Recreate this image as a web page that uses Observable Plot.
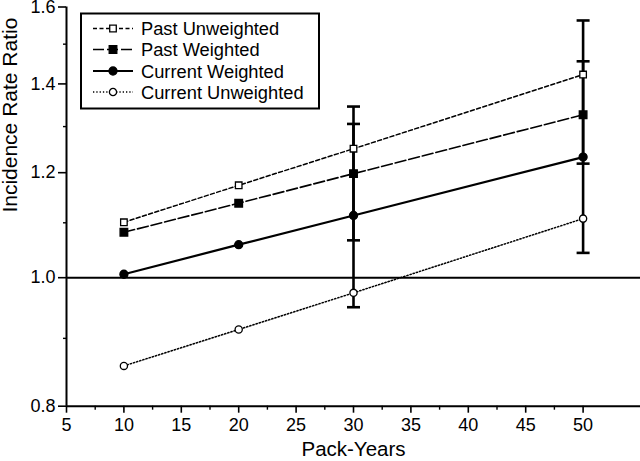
<!DOCTYPE html>
<html>
<head>
<meta charset="utf-8">
<script src="https://cdn.jsdelivr.net/npm/d3@7"></script>
<script src="https://cdn.jsdelivr.net/npm/@observablehq/plot@0.6"></script>
<style>
  html, body { margin: 0; padding: 0; background: #fff; }
  #chart { position: relative; width: 640px; height: 461px; }
  svg { font-family: "Liberation Sans", Arial, sans-serif; }
</style>
</head>
<body>
<div id="chart"></div>
<script>
// ---- data ----
const packYears = [10, 20, 30, 50];
const pastUnweighted = [1.101, 1.174, 1.251, 1.423];
const pastWeighted = [1.082, 1.138, 1.198, 1.327];
const currentWeighted = [1.006, 1.059, 1.114, 1.233];
const currentUnweighted = [0.858, 0.914, 0.974, 1.108];

const ciSeries = ["Current Weighted", "Past Weighted", "Current Weighted", "Past Weighted"];
const ciX = [30, 30, 50, 50];
const ciLow = [0.950, 1.067, 1.044, 1.219];
const ciHigh = [1.346, 1.306, 1.563, 1.456];

const xTicks = [5, 10, 15, 20, 25, 30, 35, 40, 45, 50];
const xMinorTicks = [7.5, 12.5, 17.5, 22.5, 27.5, 32.5, 37.5, 42.5, 47.5];
const yTicks = [0.8, 1.0, 1.2, 1.4, 1.6];
const yMinorTicks = [0.9, 1.1, 1.3, 1.5];

const seriesNames = ["Past Unweighted", "Past Weighted", "Current Weighted", "Current Unweighted"];
const seriesValues = [pastUnweighted, pastWeighted, currentWeighted, currentUnweighted];

// ---- styles ----
const styles = {
  "Past Unweighted":   {dash: "4,2.5", width: 1.5, symbol: "square", fill: "white", r: 3.7},
  "Past Weighted":     {dash: "11,3",  width: 1.6, symbol: "square", fill: "black", r: 4.3},
  "Current Weighted":  {dash: null,    width: 2.2, symbol: "circle", fill: "black", r: 4},
  "Current Unweighted":{dash: "1.3,2", width: 1.5, symbol: "circle", fill: "white", r: 3.6}
};

const rows = seriesNames.flatMap((s, i) => packYears.map((x, j) => ({series: s, x, y: seriesValues[i][j]})));
const ci = ciX.map((x, i) => ({series: ciSeries[i], x, lo: ciLow[i], hi: ciHigh[i]}));

const capSymbol = {
  draw(context, size) {
    const w = Math.sqrt(size / Math.PI);
    context.moveTo(-w, 0);
    context.lineTo(w, 0);
  }
};

const marks = [];
// reference line at 1.0
marks.push(Plot.ruleY([1], {stroke: "black", strokeWidth: 2}));
// series lines
for (const s of seriesNames) {
  const st = styles[s];
  marks.push(Plot.line(rows.filter(d => d.series === s), {
    x: "x", y: "y", stroke: "black", strokeWidth: st.width,
    strokeDasharray: st.dash || undefined
  }));
}
// error bars
marks.push(Plot.ruleX(ci, {x: "x", y1: "lo", y2: "hi", stroke: "black", strokeWidth: 2.6}));
marks.push(Plot.dot(ci, {x: "x", y: "lo", symbol: capSymbol, r: 6.5, fill: "none", stroke: "black", strokeWidth: 2.6}));
marks.push(Plot.dot(ci, {x: "x", y: "hi", symbol: capSymbol, r: 6.5, fill: "none", stroke: "black", strokeWidth: 2.6}));
// markers
for (const s of seriesNames) {
  const st = styles[s];
  marks.push(Plot.dot(rows.filter(d => d.series === s), {
    x: "x", y: "y", symbol: st.symbol, r: st.r, fill: st.fill, stroke: "black", strokeWidth: 1.3
  }));
}
// axes
marks.push(Plot.axisX({ticks: xTicks, tickSize: 7, tickPadding: 5, fontSize: 18, label: null, strokeWidth: 1.6}));
marks.push(Plot.axisX({ticks: xMinorTicks, tickSize: 4, tickFormat: () => "", label: null, strokeWidth: 1.4}));
marks.push(Plot.axisY({ticks: yTicks, tickSize: 8, tickPadding: 3, fontSize: 18, tickFormat: d3.format(".1f"), label: null, strokeWidth: 1.6}));
marks.push(Plot.axisY({ticks: yMinorTicks, tickSize: 3, tickFormat: () => "", label: null, strokeWidth: 1.4}));
marks.push(Plot.ruleY([0.8], {stroke: "black", strokeWidth: 2}));
marks.push(Plot.ruleX([5], {stroke: "black", strokeWidth: 2}));
// axis titles
marks.push(Plot.text(["Pack-Years"], {frameAnchor: "bottom", dy: 43, fontSize: 20.5, fill: "black", lineAnchor: "middle"}));
marks.push(Plot.text(["Incidence Rate Ratio"], {frameAnchor: "left", dx: -56.5, dy: 6, rotate: -90, fontSize: 21, fill: "black"}));

const chart = Plot.plot({
  width: 640,
  height: 461,
  marginLeft: 66,
  marginRight: 0,
  marginTop: 6.5,
  marginBottom: 55.3,
  x: {domain: [5, 55]},
  y: {type: "log", domain: [0.8, 1.6]},
  style: {fontFamily: "'Liberation Sans', Arial, sans-serif", color: "black", background: "white", overflow: "visible"},
  marks
});
document.getElementById("chart").appendChild(chart);

// ---- legend (drawn in the same SVG) ----
const svg = d3.select(chart);
const lg = svg.append("g").attr("class", "legend").attr("text-anchor", "start");
lg.append("rect").attr("x", 81).attr("y", 13.5).attr("width", 238).attr("height", 95)
  .attr("fill", "white").attr("stroke", "black").attr("stroke-width", 2);
const rowY = [28.5, 49.5, 71, 92];
seriesNames.forEach((s, i) => {
  const st = styles[s];
  const y = rowY[i];
  lg.append("line").attr("x1", 93).attr("x2", 133).attr("y1", y).attr("y2", y)
    .attr("stroke", "black").attr("stroke-width", st.width)
    .attr("stroke-dasharray", st.dash);
  const size = Math.PI * st.r * st.r;
  const sym = st.symbol === "square" ? d3.symbolSquare : d3.symbolCircle;
  lg.append("path").attr("d", d3.symbol(sym, size)())
    .attr("transform", `translate(113,${y})`)
    .attr("fill", st.fill).attr("stroke", "black").attr("stroke-width", 1.3);
  lg.append("text").attr("x", 141).attr("y", y + 6.5).attr("text-anchor", "start")
    .attr("font-size", 18.3).attr("fill", "black").text(s);
});
</script>
</body>
</html>
